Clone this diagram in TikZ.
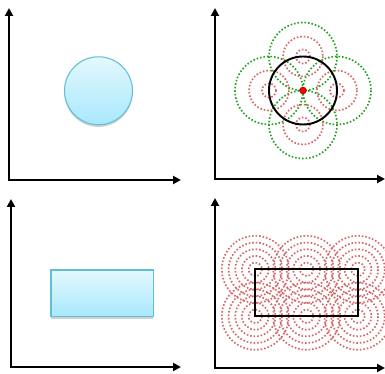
\documentclass[tikz,border=0pt]{standalone}
\usepackage{tikz}
\usetikzlibrary{arrows.meta,shadows,calc}
\definecolor{BlobTop}{RGB}{228,248,254}
\definecolor{BlobBottom}{RGB}{168,232,252}
\definecolor{BlobEdge}{RGB}{96,190,214}
\definecolor{RingRed}{RGB}{212,104,104}
\definecolor{RingGreen}{RGB}{34,160,34}
\tikzset{
  axis/.style={{Triangle[length=4.5pt,width=4.5pt]}-{Triangle[length=4.5pt,width=4.5pt]}, line width=1.1pt, black},
  blob/.style={draw=BlobEdge, line width=0.6pt, top color=BlobTop, bottom color=BlobBottom,
    drop shadow={shadow xshift=0pt, shadow yshift=-1.2pt, opacity=0.3, fill=black!60}},
  ring/.style={line width=0.95pt, dash pattern=on 0.9pt off 1.1pt},
  redring/.style={ring, RingRed},
  greenring/.style={ring, RingGreen},
  outline/.style={line width=1.1pt, black},
}

\begin{document}
\begin{tikzpicture}[x=0.02cm, y=-0.02cm]
  \useasboundingbox (0,0) rectangle (385,374);
  % axes of the four panels
  \foreach \n/\ox/\oy/\ty/\ex in {a/9/180/8/181, b/215/179/8/385, c/11/367/199/181, d/215/368/198/385} {
    \coordinate (o\n) at (\ox,\oy);
    \coordinate (y\n) at (\ox,\ty);
    \coordinate (x\n) at (\ex,\oy);
    \draw[axis] (y\n) -- (o\n) -- (x\n);
  }
  % top left: the shape
  \coordinate (disc) at (98.5,90.8);
  \draw[blob] (disc) circle (34);
  % top right: rings round the four points of the circle
  \coordinate (ctr) at (303,90.5);
  \foreach \a in {0,90,180,270} {
    \coordinate (p\a) at ($(ctr)+(\a:34)$);
    \draw[greenring] (p\a) circle (34);
    \draw[redring] (p\a) circle (20);
    \draw[redring] (p\a) circle (7);
  }
  \draw[outline] (ctr) circle (34);
  \fill[red, draw=red!60!black, line width=0.3pt] (ctr) circle (3.4);
  % bottom left: the shape
  \draw[blob] (51,270) rectangle (153.3,316.7);
  % bottom right: concentric rings at six points of the box
  \foreach \cx in {255.3,306.7,358} \foreach \cy in {269.3,316.3} {
    \foreach \r in {6.7,13.4,20.1,26.8,33.5}
      \draw[redring] (\cx,\cy) circle (\r);
  }
  \draw[outline] (255.3,269.3) rectangle (358,316.3);
\end{tikzpicture}
\end{document}
